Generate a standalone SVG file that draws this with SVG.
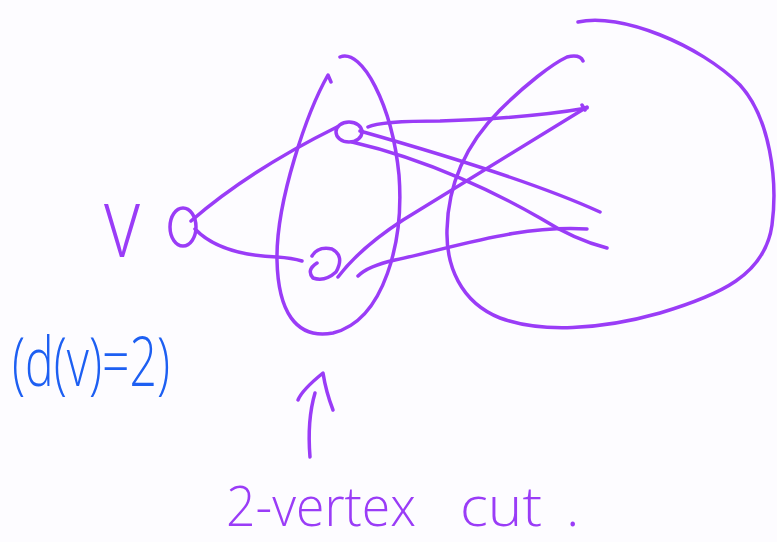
<svg xmlns="http://www.w3.org/2000/svg" width="777" height="542" viewBox="0 0 777 542">
<style>
.s{fill:none;stroke:#9a3cf7;stroke-width:3.5;stroke-linecap:round;stroke-linejoin:round}
.t{fill:#9a3cf7;font-family:"Open Sans","Liberation Sans",sans-serif;font-weight:300}
.b{fill:#1d5ff2;font-family:"Open Sans","Liberation Sans",sans-serif;font-weight:300}
</style>
<rect width="777" height="542" fill="#fdfcff"/>
<g id="components">
<path class="s" d="M340,57 C362,48 392,105 399,175 C404,240 385,320 333,333 C295,340 278,310 277,260 C276,200 308,110 328,75 L331,82"/>
<path class="s" d="M578,22 C620,12 700,45 740,85 C770,118 778,180 772,225 C765,275 720,295 660,313 C600,330 540,333 500,318 C460,302 446,265 447,230 C448,180 470,140 500,110 C525,85 552,64 567,57 Q580,54 583,61"/>
</g>
<g id="connectors">
<path class="s" d="M191,221 Q250,170 337,127"/>
<path class="s" d="M195,229 Q220,255 277,257 Q292,258 302,261"/>
<path class="s" d="M368,127 Q380,121 440,121 Q530,118 587,108 M582,105 L585,110"/>
<path class="s" d="M360,131 C420,148 530,180 600,212"/>
<path class="s" d="M352,142 C430,160 500,195 540,218 Q575,240 607,248"/>
<path class="s" d="M338,277 Q360,248 403,220 L587,107"/>
<path class="s" d="M358,276 Q368,266 395,260 C460,246 520,225 587,229"/>
<path class="s" d="M310,457 Q307,420 315,393 M298,400 Q302,390 323,373 Q326,392 333,410"/>
</g>
<g id="v">
<ellipse class="s" cx="183" cy="227" rx="13" ry="19"/>
<text class="t" x="104" y="257" font-size="100" textLength="36" lengthAdjust="spacingAndGlyphs">v</text>
</g>
<g id="cut-vertex-1">
<ellipse class="s" cx="349" cy="132" rx="13" ry="10"/>
</g>
<g id="cut-vertex-2">
<path class="s" d="M312,256 Q318,246 332,249 Q345,256 336,272 Q325,282 313,278 Q306,270 317,263"/>
</g>
<text class="b" x="12" y="386" font-size="68" textLength="158" lengthAdjust="spacingAndGlyphs">(d(v)=2)</text>
<text class="t" y="526" font-size="56"><tspan x="226" textLength="190" lengthAdjust="spacingAndGlyphs">2-vertex</tspan><tspan x="460" textLength="82" lengthAdjust="spacingAndGlyphs">cut</tspan><tspan x="566">.</tspan></text>
</svg>
